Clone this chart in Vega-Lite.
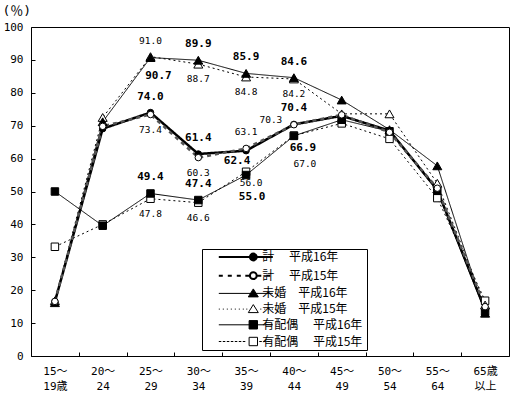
{
  "$schema": "https://vega.github.io/schema/vega-lite/v6.json",
  "autosize": "none",
  "width": 478,
  "height": 329,
  "padding": {"left": 31, "top": 27, "right": 3, "bottom": 40},
  "background": "white",
  "config": {
    "view": {"stroke": "black", "strokeWidth": 1},
    "font": "DejaVu Sans Mono"
  },
  "data": {
    "values": [
      {"id": "y15", "series": "有配偶　  平成15年", "n": 1, "age": "15～|19歳", "value": 33.2},
      {"id": "y15", "series": "有配偶　  平成15年", "n": 2, "age": "20～|24", "value": 40.0},
      {"id": "y15", "series": "有配偶　  平成15年", "n": 3, "age": "25～|29", "value": 47.8},
      {"id": "y15", "series": "有配偶　  平成15年", "n": 4, "age": "30～|34", "value": 46.6},
      {"id": "y15", "series": "有配偶　  平成15年", "n": 5, "age": "35～|39", "value": 56.0},
      {"id": "y15", "series": "有配偶　  平成15年", "n": 6, "age": "40～|44", "value": 67.0},
      {"id": "y15", "series": "有配偶　  平成15年", "n": 7, "age": "45～|49", "value": 70.7},
      {"id": "y15", "series": "有配偶　  平成15年", "n": 8, "age": "50～|54", "value": 66.0},
      {"id": "y15", "series": "有配偶　  平成15年", "n": 9, "age": "55～|64", "value": 48.0},
      {"id": "y15", "series": "有配偶　  平成15年", "n": 10, "age": "65歳|以上", "value": 16.8},
      {"id": "y16", "series": "有配偶　  平成16年", "n": 1, "age": "15～|19歳", "value": 50.0},
      {"id": "y16", "series": "有配偶　  平成16年", "n": 2, "age": "20～|24", "value": 39.6},
      {"id": "y16", "series": "有配偶　  平成16年", "n": 3, "age": "25～|29", "value": 49.4},
      {"id": "y16", "series": "有配偶　  平成16年", "n": 4, "age": "30～|34", "value": 47.4},
      {"id": "y16", "series": "有配偶　  平成16年", "n": 5, "age": "35～|39", "value": 55.0},
      {"id": "y16", "series": "有配偶　  平成16年", "n": 6, "age": "40～|44", "value": 66.9},
      {"id": "y16", "series": "有配偶　  平成16年", "n": 7, "age": "45～|49", "value": 71.8},
      {"id": "y16", "series": "有配偶　  平成16年", "n": 8, "age": "50～|54", "value": 68.3},
      {"id": "y16", "series": "有配偶　  平成16年", "n": 9, "age": "55～|64", "value": 50.2},
      {"id": "y16", "series": "有配偶　  平成16年", "n": 10, "age": "65歳|以上", "value": 13.5},
      {"id": "m15", "series": "未婚　平成15年", "n": 1, "age": "15～|19歳", "value": 16.8},
      {"id": "m15", "series": "未婚　平成15年", "n": 2, "age": "20～|24", "value": 72.5},
      {"id": "m15", "series": "未婚　平成15年", "n": 3, "age": "25～|29", "value": 91.0},
      {"id": "m15", "series": "未婚　平成15年", "n": 4, "age": "30～|34", "value": 88.7},
      {"id": "m15", "series": "未婚　平成15年", "n": 5, "age": "35～|39", "value": 84.8},
      {"id": "m15", "series": "未婚　平成15年", "n": 6, "age": "40～|44", "value": 84.2},
      {"id": "m15", "series": "未婚　平成15年", "n": 7, "age": "45～|49", "value": 73.6},
      {"id": "m15", "series": "未婚　平成15年", "n": 8, "age": "50～|54", "value": 73.6},
      {"id": "m15", "series": "未婚　平成15年", "n": 9, "age": "55～|64", "value": 52.5},
      {"id": "m15", "series": "未婚　平成15年", "n": 10, "age": "65歳|以上", "value": 15.5},
      {"id": "m16", "series": "未婚　平成16年", "n": 1, "age": "15～|19歳", "value": 16.2},
      {"id": "m16", "series": "未婚　平成16年", "n": 2, "age": "20～|24", "value": 71.2},
      {"id": "m16", "series": "未婚　平成16年", "n": 3, "age": "25～|29", "value": 90.7},
      {"id": "m16", "series": "未婚　平成16年", "n": 4, "age": "30～|34", "value": 89.9},
      {"id": "m16", "series": "未婚　平成16年", "n": 5, "age": "35～|39", "value": 85.9},
      {"id": "m16", "series": "未婚　平成16年", "n": 6, "age": "40～|44", "value": 84.6},
      {"id": "m16", "series": "未婚　平成16年", "n": 7, "age": "45～|49", "value": 77.8},
      {"id": "m16", "series": "未婚　平成16年", "n": 8, "age": "50～|54", "value": 68.8},
      {"id": "m16", "series": "未婚　平成16年", "n": 9, "age": "55～|64", "value": 57.8},
      {"id": "m16", "series": "未婚　平成16年", "n": 10, "age": "65歳|以上", "value": 13.0},
      {"id": "k16", "series": "計　 平成16年", "n": 1, "age": "15～|19歳", "value": 16.5},
      {"id": "k16", "series": "計　 平成16年", "n": 2, "age": "20～|24", "value": 69.1},
      {"id": "k16", "series": "計　 平成16年", "n": 3, "age": "25～|29", "value": 74.0},
      {"id": "k16", "series": "計　 平成16年", "n": 4, "age": "30～|34", "value": 61.4},
      {"id": "k16", "series": "計　 平成16年", "n": 5, "age": "35～|39", "value": 62.4},
      {"id": "k16", "series": "計　 平成16年", "n": 6, "age": "40～|44", "value": 70.4},
      {"id": "k16", "series": "計　 平成16年", "n": 7, "age": "45～|49", "value": 73.0},
      {"id": "k16", "series": "計　 平成16年", "n": 8, "age": "50～|54", "value": 68.5},
      {"id": "k16", "series": "計　 平成16年", "n": 9, "age": "55～|64", "value": 50.5},
      {"id": "k16", "series": "計　 平成16年", "n": 10, "age": "65歳|以上", "value": 14.0},
      {"id": "k15", "series": "計　 平成15年", "n": 1, "age": "15～|19歳", "value": 16.6},
      {"id": "k15", "series": "計　 平成15年", "n": 2, "age": "20～|24", "value": 69.8},
      {"id": "k15", "series": "計　 平成15年", "n": 3, "age": "25～|29", "value": 73.4},
      {"id": "k15", "series": "計　 平成15年", "n": 4, "age": "30～|34", "value": 60.3},
      {"id": "k15", "series": "計　 平成15年", "n": 5, "age": "35～|39", "value": 63.1},
      {"id": "k15", "series": "計　 平成15年", "n": 6, "age": "40～|44", "value": 70.3},
      {"id": "k15", "series": "計　 平成15年", "n": 7, "age": "45～|49", "value": 73.3},
      {"id": "k15", "series": "計　 平成15年", "n": 8, "age": "50～|54", "value": 68.0},
      {"id": "k15", "series": "計　 平成15年", "n": 9, "age": "55～|64", "value": 51.0},
      {"id": "k15", "series": "計　 平成15年", "n": 10, "age": "65歳|以上", "value": 15.0}
    ]
  },
  "encoding": {
    "x": {
      "field": "age",
      "type": "nominal",
      "bandPosition": 0.5,
      "scale": {"type": "band", "paddingInner": 0, "paddingOuter": 0,
        "domain": ["15～|19歳","20～|24","25～|29","30～|34","35～|39","40～|44","45～|49","50～|54","55～|64","65歳|以上"]},
      "axis": {
        "title": null, "domain": false, "grid": false,
        "tickBand": "extent", "tickSize": -4, "tickColor": "black",
        "labelAngle": 0, "labelExpr": "split(datum.label, '|')",
        "labelFont": "DejaVu Sans Mono, Noto Sans CJK JP", "labelFontSize": 11,
        "labelLineHeight": 15.5, "labelPadding": 13, "labelColor": "black",
        "labelBaseline": "top", "labelAlign": "center"
      }
    },
    "y": {
      "field": "value",
      "type": "quantitative",
      "scale": {"domain": [0, 100], "nice": false},
      "axis": {
        "values": [0,10,20,30,40,50,60,70,80,90,100],
        "domain": false, "grid": false, "tickSize": -4, "tickColor": "black",
        "labelFont": "DejaVu Sans Mono", "labelFontSize": 11, "labelColor": "black",
        "labelPadding": 12,
        "title": "(％)", "titleAngle": 0, "titleX": -29, "titleY": -17,
        "titleAlign": "left", "titleBaseline": "middle",
        "titleFont": "DejaVu Sans Mono, Noto Sans CJK JP", "titleFontSize": 13,
        "titleFontWeight": "normal", "titleColor": "black"
      }
    }
  },
  "resolve": {"scale": {"shape": "independent", "fill": "independent", "stroke": "independent", "strokeWidth": "independent"}},
  "layer": [
    {
      "mark": {"type": "line"},
      "encoding": {
        "detail": {"field": "id"},
        "stroke": {"field": "id", "type": "nominal", "legend": null,
          "scale": {"domain": ["k16","k15","m16","m15","y16","y15"], "range": ["black","#555555","black","black","black","black"]}},
        "strokeDash": {"field": "id", "type": "nominal", "legend": null,
          "scale": {"domain": ["k16","k15","m16","m15","y16","y15"], "range": [[1,0],[4,4],[1,0],[2,3],[1,0],[2,3]]}},
        "strokeWidth": {"field": "id", "type": "nominal", "legend": null,
          "scale": {"type": "ordinal", "domain": ["k16","k15","m16","m15","y16","y15"], "range": [2.5,2.5,1,1,1,1]}}
      }
    },
    {
      "mark": {"type": "point", "filled": true, "stroke": "black", "strokeWidth": 1, "opacity": 1},
      "encoding": {
        "shape": {"field": "id", "type": "nominal", "legend": null,
          "scale": {"domain": ["k16","k15","m16","m15","y16","y15"],
                    "range": ["circle","circle","triangle-up","triangle-up","square","square"]}},
        "fill": {"field": "id", "type": "nominal", "legend": null,
          "scale": {"domain": ["k16","k15","m16","m15","y16","y15"], "range": ["black","white","black","white","black","white"]}},
        "size": {"field": "id", "type": "nominal", "legend": null,
          "scale": {"type": "ordinal", "domain": ["k16","k15","m16","m15","y16","y15"], "range": [42,42,81,81,56,56]}}
      }
    },
    {
      "transform": [{"filter": "false"}],
      "mark": {"type": "point", "filled": true},
      "encoding": {
        "shape": {"field": "series", "type": "nominal",
          "scale": {"domain": ["計　 平成16年","計　 平成15年","未婚　平成16年","未婚　平成15年","有配偶　  平成16年","有配偶　  平成15年"],
            "range": [
              "M-4.1,0L6.7,0M2.12,0A0.68,0.68 0 1,0 3.48,0A0.68,0.68 0 1,0 2.12,0Z",
              "M-4.1,0L-3.3,0M-2.3,0L-1.5,0M-0.5,0L0.3,0M1.2,0L2.12,0M3.48,0L4.4,0M5.4,0L6.2,0M2.12,0A0.68,0.68 0 1,0 3.48,0A0.68,0.68 0 1,0 2.12,0Z",
              "M-4.1,0L6.7,0M2.8,-0.9L3.8,0.7L1.8,0.7Z",
              "M-4.1,0L-3.9,0M-3.3,0L-3.1,0M-2.5,0L-2.3,0M-1.7,0L-1.5,0M-0.9,0L-0.7,0M-0.1,0L0.1,0M0.7,0L0.9,0M1.4,0L1.6,0M4.2,0L4.4,0M5,0L5.2,0M5.8,0L6,0M6.5,0L6.7,0M2.8,-0.9L3.8,0.7L1.8,0.7Z",
              "M-4.1,0L6.7,0M1.96,-0.84L3.64,-0.84L3.64,0.84L1.96,0.84Z",
              "M-4.1,0L-3.6,0M-3.3,0L-2.8,0M-2.5,0L-2,0M-1.7,0L-1.2,0M-0.9,0L-0.4,0M-0.1,0L0.4,0M0.7,0L1.2,0M4,0L4.5,0M4.8,0L5.3,0M5.6,0L6.1,0M1.96,-0.84L3.64,-0.84L3.64,0.84L1.96,0.84Z"
            ]},
          "legend": {
            "orient": "none", "legendX": 171, "legendY": 222, "title": null,
            "symbolSize": 100, "symbolOffset": 29.3, "labelOffset": 17,
            "symbolOpacity": 1,
            "padding": 2, "rowPadding": 2.7,
            "strokeColor": "black", "fillColor": "white",
            "labelFont": "Noto Sans CJK JP", "labelFontSize": 12, "labelColor": "black"
          }
        },
        "fill": {"field": "series", "type": "nominal",
          "scale": {"domain": ["計　 平成16年","計　 平成15年","未婚　平成16年","未婚　平成15年","有配偶　  平成16年","有配偶　  平成15年"],
                    "range": ["black","white","black","white","black","white"]}},
        "stroke": {"field": "series", "type": "nominal",
          "scale": {"domain": ["計　 平成16年","計　 平成15年","未婚　平成16年","未婚　平成15年","有配偶　  平成16年","有配偶　  平成15年"],
                    "range": ["black","black","black","black","black","black"]}},
        "strokeWidth": {"field": "series", "type": "nominal",
          "scale": {"type": "ordinal", "domain": ["計　 平成16年","計　 平成15年","未婚　平成16年","未婚　平成15年","有配偶　  平成16年","有配偶　  平成15年"],
                    "range": [2,2,1,1,1,1]}}
      }
    },
    {
      "transform": [{"filter": "indexof(['m16-4','m16-5','m16-6','k16-3','k16-4','k16-6','y16-3','y16-4'], datum.id + '-' + datum.n) >= 0"}],
      "mark": {"type": "text", "font": "DejaVu Sans Mono", "fontWeight": "bold", "fontSize": 11, "dy": -16, "color": "black"},
      "encoding": {"text": {"field": "value", "type": "quantitative", "format": ".1f"}}
    },
    {
      "transform": [{"filter": "datum.id === 'm16' && datum.n === 3"}],
      "mark": {"type": "text", "font": "DejaVu Sans Mono", "fontWeight": "bold", "fontSize": 11, "dx": 8, "dy": 18, "color": "black"},
      "encoding": {"text": {"field": "value", "type": "quantitative", "format": ".1f"}}
    },
    {
      "transform": [{"filter": "datum.id === 'k16' && datum.n === 5"}],
      "mark": {"type": "text", "font": "DejaVu Sans Mono", "fontWeight": "bold", "fontSize": 11, "dx": -9, "dy": 10, "color": "black"},
      "encoding": {"text": {"field": "value", "type": "quantitative", "format": ".1f"}}
    },
    {
      "transform": [{"filter": "datum.id === 'y16' && datum.n === 5"}],
      "mark": {"type": "text", "font": "DejaVu Sans Mono", "fontWeight": "bold", "fontSize": 11, "dx": 6, "dy": 22, "color": "black"},
      "encoding": {"text": {"field": "value", "type": "quantitative", "format": ".1f"}}
    },
    {
      "transform": [{"filter": "datum.id === 'y16' && datum.n === 6"}],
      "mark": {"type": "text", "font": "DejaVu Sans Mono", "fontWeight": "bold", "fontSize": 11, "dx": 9, "dy": 12, "color": "black"},
      "encoding": {"text": {"field": "value", "type": "quantitative", "format": ".1f"}}
    },
    {
      "transform": [{"filter": "indexof(['m15-3','k15-5'], datum.id + '-' + datum.n) >= 0"}],
      "mark": {"type": "text", "font": "DejaVu Sans Mono", "fontSize": 9.5, "dy": -16, "color": "black"},
      "encoding": {"text": {"field": "value", "type": "quantitative", "format": ".1f"}}
    },
    {
      "transform": [{"filter": "datum.id === 'k15' && datum.n === 6"}],
      "mark": {"type": "text", "font": "DejaVu Sans Mono", "fontSize": 9.5, "dx": -23, "dy": -5, "color": "black"},
      "encoding": {"text": {"field": "value", "type": "quantitative", "format": ".1f"}}
    },
    {
      "transform": [{"filter": "indexof(['m15-4','m15-5','m15-6','k15-3','k15-4','y15-3','y15-4'], datum.id + '-' + datum.n) >= 0"}],
      "mark": {"type": "text", "font": "DejaVu Sans Mono", "fontSize": 9.5, "dy": 15, "color": "black"},
      "encoding": {"text": {"field": "value", "type": "quantitative", "format": ".1f"}}
    },
    {
      "transform": [{"filter": "datum.id === 'y15' && datum.n === 5"}],
      "mark": {"type": "text", "font": "DejaVu Sans Mono", "fontSize": 9.5, "dx": 5, "dy": 11, "color": "black"},
      "encoding": {"text": {"field": "value", "type": "quantitative", "format": ".1f"}}
    },
    {
      "transform": [{"filter": "datum.id === 'y15' && datum.n === 6"}],
      "mark": {"type": "text", "font": "DejaVu Sans Mono", "fontSize": 9.5, "dx": 11, "dy": 28, "color": "black"},
      "encoding": {"text": {"field": "value", "type": "quantitative", "format": ".1f"}}
    }
  ]
}
